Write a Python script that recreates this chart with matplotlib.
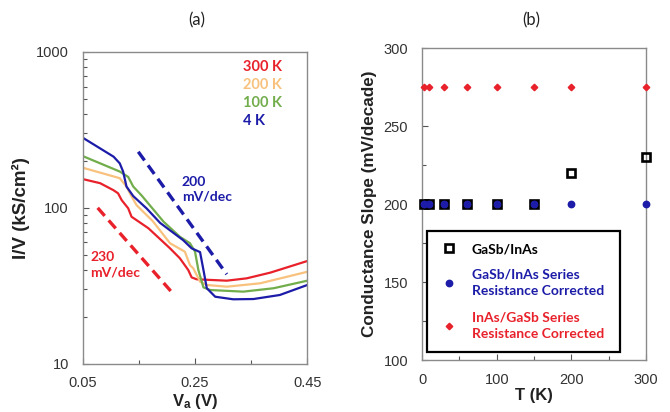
import matplotlib
matplotlib.use("Agg")
import matplotlib.pyplot as plt
from matplotlib.ticker import FixedLocator, NullFormatter, LogLocator

plt.rcParams['font.family'] = ['Liberation Sans', 'DejaVu Sans']
plt.rcParams['mathtext.fontset'] = 'custom'
plt.rcParams['mathtext.rm'] = 'Liberation Sans'
plt.rcParams['mathtext.bf'] = 'Liberation Sans:bold'

# ---------------- data: panel (a) ----------------
va_4K = [0.05, 0.105, 0.116, 0.122, 0.128, 0.140, 0.164, 0.188, 0.229, 0.244, 0.259, 0.265, 0.271, 0.286, 0.318, 0.354, 0.401, 0.45]
iv_4K = [282, 213, 193, 171, 137, 119, 99, 80, 62, 55, 52, 40, 30.5, 26.9, 25.9, 26.0, 27.6, 32.0]

va_100K = [0.05, 0.116, 0.131, 0.140, 0.155, 0.194, 0.223, 0.241, 0.250, 0.256, 0.265, 0.277, 0.336, 0.39, 0.45]
iv_100K = [215, 171, 158, 137, 120, 81.5, 65.3, 59.3, 52.4, 39.9, 30.9, 29.7, 29.0, 30.5, 34.1]

va_200K = [0.05, 0.116, 0.128, 0.134, 0.146, 0.175, 0.2055, 0.232, 0.241, 0.247, 0.259, 0.271, 0.3065, 0.366, 0.45]
iv_200K = [181, 155, 137, 124, 104, 82, 59.3, 52.3, 42.9, 40.9, 33.6, 32.0, 31.2, 32.8, 38.9]

va_300K = [0.05, 0.081, 0.1045, 0.113, 0.1195, 0.131, 0.137, 0.167, 0.2055, 0.223, 0.238, 0.244, 0.253, 0.3065, 0.342, 0.384, 0.45]
iv_300K = [153, 144, 130, 124, 112, 99.4, 87.7, 74, 55, 47.5, 39.9, 35.8, 34.8, 34.1, 35.3, 38.4, 45.6]

dash_200_x = [0.149, 0.3065]
dash_200_y = [229, 37.5]
dash_230_x = [0.0767, 0.2085]
dash_230_y = [100, 28.8]

temps_a = ["300 K", "200 K", "100 K", "4 K"]

# ---------------- data: panel (b) ----------------
T_points = [3, 10, 30, 60, 100, 150, 200, 300]
slope_gasb_inas = [200, 200, 200, 200, 200, 200, 220, 230]
slope_gasb_inas_corr = [200, 200, 200, 200, 200, 200, 200, 200]
slope_inas_gasb_corr = [275, 275, 275, 275, 275, 275, 275, 275]

RED = '#e8212b'
ORANGE = '#f8c27e'
GREEN = '#72ad4c'
BLUE = '#1c1ca8'
SPINE = '#8a8a8a'
TICKC = '#333333'

fig = plt.figure(figsize=(6.70, 4.12), dpi=100)

# ---------------- panel (a) ----------------
axa = fig.add_axes([0.1234, 0.1172, 0.3353, 0.7566])
axa.plot(va_300K, iv_300K, color=RED, lw=1.6)
axa.plot(va_200K, iv_200K, color=ORANGE, lw=1.6)
axa.plot(va_100K, iv_100K, color=GREEN, lw=1.6)
axa.plot(va_4K, iv_4K, color=BLUE, lw=1.6)
axa.plot(dash_200_x, dash_200_y, color=BLUE, lw=2.4, ls=(0, (3.2, 1.8)))
axa.plot(dash_230_x, dash_230_y, color=RED, lw=2.4, ls=(0, (3.2, 1.8)))
axa.set_yscale('log')
axa.set_xlim(0.05, 0.45)
axa.set_ylim(10, 1000)
axa.xaxis.set_major_locator(FixedLocator([0.05, 0.25, 0.45]))
axa.xaxis.set_minor_locator(FixedLocator([0.15, 0.35]))
axa.set_xticklabels(['0.05', '0.25', '0.45'])
axa.yaxis.set_major_locator(FixedLocator([10, 100, 1000]))
axa.yaxis.set_minor_locator(LogLocator(base=10, subs=range(2, 10)))
axa.yaxis.set_minor_formatter(NullFormatter())
axa.set_yticklabels(['10', '100', '1000'])
axa.tick_params(which='both', direction='in', color='#555555', labelsize=10.5, labelcolor=TICKC)
axa.tick_params(which='major', length=4, width=0.8)
axa.tick_params(which='minor', length=3, width=0.8)
axa.tick_params(axis='x', pad=9)
axa.tick_params(axis='y', pad=10)
for s in axa.spines.values():
    s.set_color(SPINE)
    s.set_linewidth(1.0)
axa.set_xlabel(r'$\mathbf{V_a}$ (V)', fontsize=12, fontweight='bold', color='#222222', labelpad=1)
axa.set_ylabel('I/V (kS/cm²)', fontsize=13.5, fontweight='bold', color='#222222', labelpad=4)

tcols = [RED, ORANGE, GREEN, BLUE]
tys = [0.953, 0.894, 0.837, 0.779]
for lab, c, yy in zip(temps_a, tcols, tys):
    axa.text(0.714, yy, lab, transform=axa.transAxes, color=c, fontsize=10.5,
             fontweight='bold', family='Lato', ha='left', va='center')
axa.text(0.441, 0.560, '200\nmV/dec', transform=axa.transAxes, color=BLUE, fontsize=10,
         fontweight='bold', family='Lato', ha='left', va='center', linespacing=1.3)
axa.text(0.0325, 0.317, '230\nmV/dec', transform=axa.transAxes, color=RED, fontsize=10,
         fontweight='bold', family='Lato', ha='left', va='center', linespacing=1.3)
fig.text(196.7 / 670, 1 - 20.7 / 412, '(a)', fontsize=12, family='Lato', ha='center', va='center', color='#222222')

# ---------------- panel (b) ----------------
axb = fig.add_axes([0.6299, 0.1262, 0.3343, 0.7566])
h1 = axb.plot(T_points, slope_gasb_inas, ls='none', marker='s', ms=5.2, mfc='none',
              mec='black', mew=1.9, label='GaSb/InAs', zorder=3, clip_on=False)[0]
h2 = axb.plot(T_points, slope_gasb_inas_corr, ls='none', marker='o', ms=4.6, mfc=BLUE,
              mec=BLUE, label='GaSb/InAs Series\nResistance Corrected', zorder=4, clip_on=False)[0]
h3 = axb.plot(T_points, slope_inas_gasb_corr, ls='none', marker='D', ms=3.3, mfc=RED,
              mec=RED, label='InAs/GaSb Series\nResistance Corrected', zorder=4, clip_on=False)[0]
axb.set_xlim(0, 300)
axb.set_ylim(100, 300)
axb.xaxis.set_major_locator(FixedLocator([0, 100, 200, 300]))
axb.xaxis.set_minor_locator(FixedLocator([50, 150, 250]))
axb.yaxis.set_major_locator(FixedLocator([100, 150, 200, 250, 300]))
axb.yaxis.set_minor_locator(FixedLocator([125, 175, 225, 275]))
axb.tick_params(which='both', direction='in', color='#555555', labelsize=10.5, labelcolor=TICKC)
axb.tick_params(which='major', length=4, width=0.8)
axb.tick_params(which='minor', length=3, width=0.8)
axb.tick_params(axis='x', pad=9)
axb.tick_params(axis='y', pad=10)
for s in axb.spines.values():
    s.set_color(SPINE)
    s.set_linewidth(1.0)
axb.set_xlabel('T (K)', fontsize=12, fontweight='bold', color='#222222', labelpad=1)
axb.set_ylabel('Conductance Slope (mV/decade)', fontsize=12.3, fontweight='bold', color='#222222', labelpad=5)

leg = axb.legend(handles=[h1, h2, h3], loc='lower left',
                 bbox_to_anchor=(0.021, 0.027, 0.863, 0.394), mode='expand',
                 frameon=True, fancybox=False, framealpha=1, edgecolor='black',
                 labelcolor=['black', BLUE, RED], handletextpad=0.9, handlelength=1.5,
                 borderpad=0.85, labelspacing=1.0, borderaxespad=0,
                 prop={'family': 'Lato', 'weight': 'bold', 'size': 10})
for t in leg.get_texts():
    t.set_linespacing(1.45)
leg.get_frame().set_linewidth(1.6)
fig.text(531.7 / 670, 1 - 20.7 / 412, '(b)', fontsize=12, family='Lato', ha='center', va='center', color='#222222')

fig.savefig('out.png', dpi=100)
